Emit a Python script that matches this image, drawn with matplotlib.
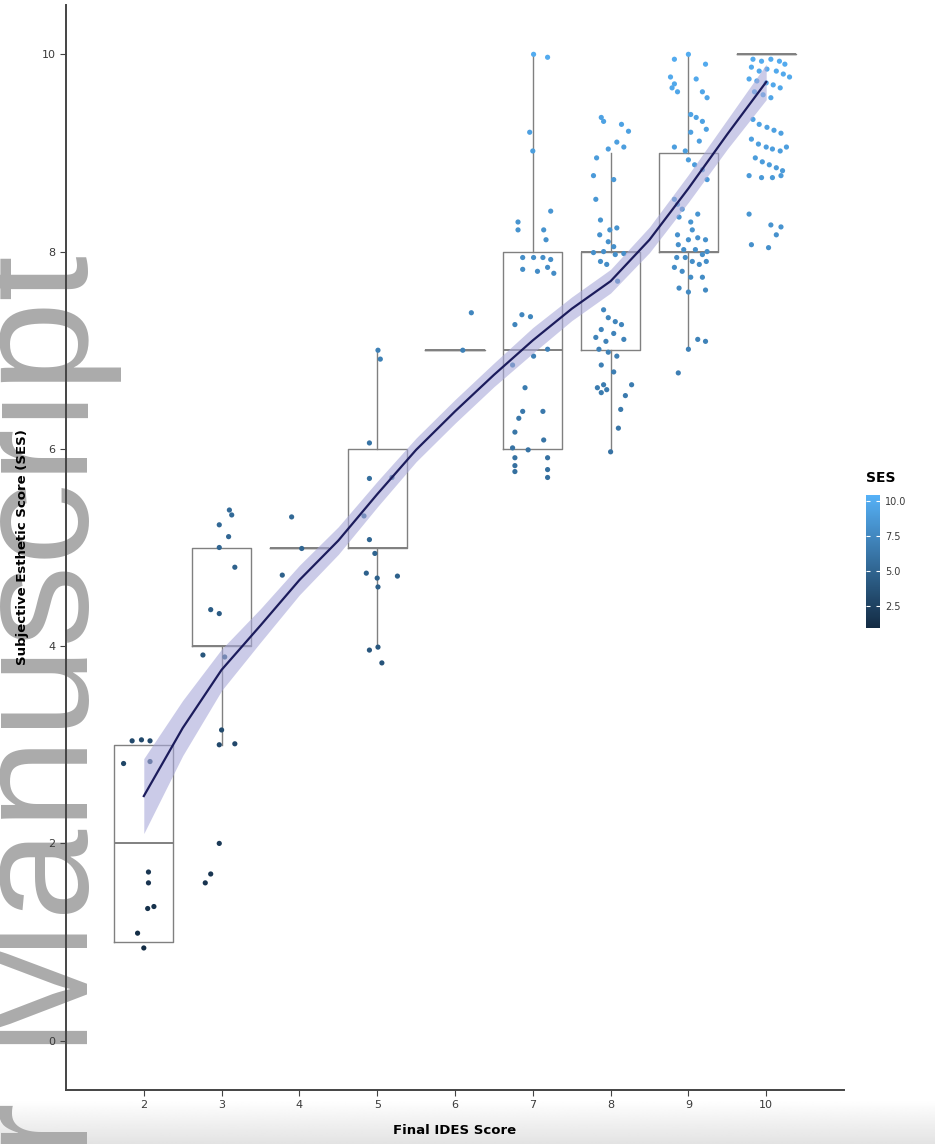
import numpy as np
import matplotlib
matplotlib.use("Agg")
import matplotlib.pyplot as plt
from matplotlib.colors import LinearSegmentedColormap, Normalize

# Final IDES score categories
categories = [2, 3, 4, 5, 6, 7, 8, 9, 10]

# boxplot summary per category (ggplot style: whiskers, quartiles, median)
box_low = [1, 3, 5, 4, 7, 6, 6, 7, 10]
box_q1 = [1, 4, 5, 5, 7, 6, 7, 8, 10]
box_med = [2, 4, 5, 5, 7, 7, 8, 8, 10]
box_q3 = [3, 5, 5, 6, 7, 8, 8, 9, 10]
box_high = [3, 5, 5, 7, 7, 10, 9, 10, 10]

# jittered points: horizontal jitter and SES value, one pair of lists per category
jit_2 = [-0.15, -0.03, 0.08, -0.26, 0.08, 0.06, 0.06, 0.05, 0.13, -0.08, 0.0]
ses_2 = [3.04, 3.05, 3.04, 2.81, 2.83, 1.71, 1.60, 1.34, 1.36, 1.09, 0.94]

jit_3 = [0.10, 0.13, 0.09, -0.03, -0.03, 0.17, -0.14, -0.03, -0.24, 0.04,
         0.0, -0.03, 0.17, -0.03, -0.14, -0.21]
ses_3 = [5.38, 5.33, 5.11, 5.23, 5.00, 4.80, 4.37, 4.33, 3.91, 3.89,
         3.15, 3.00, 3.01, 2.00, 1.69, 1.60]

jit_4 = [-0.10, -0.22, 0.03]
ses_4 = [5.31, 4.72, 4.99]

jit_5 = [0.01, 0.04, -0.10, -0.10, 0.19, -0.17, -0.10, -0.03, -0.14, 0.26,
         0.0, 0.01, -0.10, 0.01, 0.06]
ses_5 = [7.00, 6.91, 6.06, 5.70, 5.71, 5.32, 5.08, 4.94, 4.74, 4.71,
         4.69, 4.60, 3.96, 3.99, 3.83]

jit_6 = [0.21, 0.10]
ses_6 = [7.38, 7.00]

jit_7 = [0.01, 0.19, -0.04, 0.0, 0.23, -0.19, -0.19, 0.14, 0.17, -0.13,
         0.01, 0.13, 0.23, -0.13, 0.06, 0.19, 0.27, -0.14, -0.03, -0.23,
         0.19, 0.01, -0.26, -0.10, -0.13, -0.18, 0.13, -0.23, -0.26, 0.14,
         -0.06, -0.23, -0.23, -0.23, 0.19, 0.19, 0.19]
ses_7 = [10.0, 9.97, 9.21, 9.02, 8.41, 8.30, 8.22, 8.22, 8.12, 7.94,
         7.94, 7.94, 7.92, 7.82, 7.80, 7.84, 7.78, 7.36, 7.34, 7.26,
         7.01, 6.94, 6.85, 6.62, 6.38, 6.31, 6.38, 6.17, 6.01, 6.09,
         5.99, 5.91, 5.83, 5.77, 5.91, 5.79, 5.71]

jit_8 = [-0.12, -0.09, 0.14, 0.23, 0.08, -0.03, 0.17, -0.18, -0.22, 0.04,
         -0.19, -0.13, -0.01, 0.08, -0.14, -0.03, 0.04, -0.09, -0.22, 0.06,
         0.17, -0.13, -0.05, 0.09, -0.09, -0.03, 0.06, 0.14, -0.12, 0.04,
         -0.19, -0.06, 0.17, -0.15, -0.03, 0.08, -0.12, 0.04, -0.09, -0.17,
         -0.12, -0.05, 0.19, 0.27, 0.13, 0.10, 0.0]
ses_8 = [9.36, 9.32, 9.29, 9.22, 9.11, 9.04, 9.06, 8.95, 8.77, 8.73,
         8.53, 8.32, 8.22, 8.24, 8.17, 8.10, 8.05, 8.00, 7.99, 7.97,
         7.98, 7.90, 7.87, 7.70, 7.41, 7.33, 7.29, 7.26, 7.21, 7.17,
         7.13, 7.09, 7.11, 7.01, 6.98, 6.94, 6.85, 6.78, 6.65, 6.62,
         6.57, 6.60, 6.54, 6.65, 6.40, 6.21, 5.97]

jit_9 = [0.0, -0.18, 0.22, -0.23, -0.18, -0.14, -0.21, 0.10, 0.18, 0.24,
         0.03, 0.10, 0.18, 0.23, 0.03, 0.14, -0.18, -0.04, 0.0, 0.08,
         0.18, 0.24, -0.18, -0.14, -0.08, 0.12, -0.12, 0.03, 0.05, -0.14,
         0.0, 0.12, 0.22, -0.13, -0.06, 0.09, 0.18, 0.24, -0.15, -0.04,
         0.05, 0.14, 0.23, -0.18, -0.08, 0.03, 0.18, -0.12, 0.0, 0.22,
         0.12, 0.22, 0.0, -0.13]
ses_9 = [10.0, 9.95, 9.90, 9.77, 9.70, 9.62, 9.66, 9.75, 9.62, 9.56,
         9.39, 9.36, 9.32, 9.24, 9.21, 9.12, 9.06, 9.02, 8.93, 8.88,
         8.83, 8.73, 8.53, 8.48, 8.43, 8.38, 8.35, 8.30, 8.22, 8.17,
         8.12, 8.14, 8.12, 8.07, 8.02, 8.02, 7.97, 8.00, 7.94, 7.94,
         7.90, 7.87, 7.90, 7.84, 7.80, 7.74, 7.74, 7.63, 7.59, 7.61,
         7.11, 7.09, 7.01, 6.77]

jit_10 = [-0.17, -0.06, 0.06, 0.17, 0.24, -0.19, -0.09, 0.01, 0.13, 0.22,
          0.30, -0.22, -0.12, 0.0, 0.09, 0.18, -0.15, -0.04, 0.06, -0.17,
          -0.09, 0.01, 0.10, 0.19, -0.19, -0.10, 0.0, 0.08, 0.18, 0.26,
          -0.14, -0.05, 0.04, 0.13, 0.21, -0.22, -0.06, 0.08, 0.19, -0.22,
          0.06, 0.19, 0.13, -0.19, 0.03]
ses_10 = [9.95, 9.93, 9.95, 9.93, 9.90, 9.87, 9.83, 9.85, 9.83, 9.80,
          9.77, 9.75, 9.73, 9.71, 9.69, 9.66, 9.62, 9.59, 9.56, 9.34,
          9.29, 9.26, 9.23, 9.20, 9.14, 9.09, 9.06, 9.04, 9.02, 9.06,
          8.95, 8.91, 8.88, 8.85, 8.82, 8.77, 8.75, 8.75, 8.77, 8.38,
          8.27, 8.25, 8.17, 8.07, 8.04]

jitters = [jit_2, jit_3, jit_4, jit_5, jit_6, jit_7, jit_8, jit_9, jit_10]
ses_values = [ses_2, ses_3, ses_4, ses_5, ses_6, ses_7, ses_8, ses_9, ses_10]

# loess fit (fit and half-width of the confidence band)
smooth_x = [2, 2.5, 3, 3.5, 4, 4.5, 5, 5.5, 6, 6.5, 7, 7.5, 8, 8.5, 9, 9.5, 10]
smooth_y = [2.48, 3.17, 3.76, 4.21, 4.67, 5.07, 5.54, 5.99, 6.38, 6.75,
            7.10, 7.42, 7.70, 8.12, 8.64, 9.19, 9.72]
smooth_se = [0.38, 0.28, 0.21, 0.17, 0.15, 0.14, 0.13, 0.12, 0.12, 0.12,
             0.13, 0.12, 0.12, 0.13, 0.14, 0.15, 0.18]

W, H = 935, 1144
fig = plt.figure(figsize=(W / 100, H / 100), dpi=100)

# faint page shadow along the bottom edge
gax = fig.add_axes([0, 0, 1, 44 / H])
gax.set_zorder(-2)
grad = np.linspace(0.89, 1.0, 50).reshape(-1, 1)
gax.imshow(np.repeat(grad, 2, axis=1), cmap="gray", vmin=0, vmax=1,
           aspect="auto", origin="lower")
gax.axis("off")

# watermark
fig.text(88 / W, 1 - 255 / H, "Author Manuscript", rotation=90,
         rotation_mode="anchor", ha="right", va="baseline", fontsize=118,
         color="#ababab", family="Liberation Sans", zorder=-1)

ax = fig.add_axes([66 / W, 1 - 1090 / H, (844 - 66) / W, (1090 - 5) / H])
ax.patch.set_alpha(0)

# boxplots
stats = []
for i, c in enumerate(categories):
    stats.append(dict(whislo=box_low[i], q1=box_q1[i], med=box_med[i],
                      q3=box_q3[i], whishi=box_high[i], fliers=[]))
line_kw = dict(color="#808080", linewidth=1.0)
ax.bxp(stats, positions=categories, widths=0.76, showfliers=False,
       boxprops=line_kw, whiskerprops=line_kw, capprops=dict(linewidth=0),
       medianprops=dict(color="#808080", linewidth=1.4), manage_ticks=False,
       zorder=1)

# jittered points coloured by SES
cmap = LinearSegmentedColormap.from_list("ses", ["#132B43", "#56B1F7"])
norm = Normalize(vmin=0.9, vmax=10.4)
px, py = [], []
for c, jx, sy in zip(categories, jitters, ses_values):
    px += [c + d for d in jx]
    py += sy
ax.scatter(px, py, c=py, cmap=cmap, norm=norm, s=14, linewidths=0, zorder=3)

# smooth fit with confidence band
sy = np.array(smooth_y)
se = np.array(smooth_se)
ax.fill_between(smooth_x, sy - se, sy + se, color="#a9a9d9", alpha=0.6,
                linewidth=0, zorder=4)
ax.plot(smooth_x, sy, color="#1c1c5c", linewidth=1.6, zorder=5)

ax.set_xlim(1.0, 11.0)
ax.set_ylim(-0.5, 10.5)
ax.set_xticks(categories)
ax.set_yticks([0, 2, 4, 6, 8, 10])
for s in ["top", "right"]:
    ax.spines[s].set_visible(False)
for s in ["left", "bottom"]:
    ax.spines[s].set_color("#444444")
    ax.spines[s].set_linewidth(1.4)
ax.tick_params(colors="#444444", length=4, width=0.8, labelsize=8,
               labelcolor="#3a3a3a")
ax.set_xlabel("Final IDES Score", fontsize=9.5, fontweight="bold", labelpad=10)
ax.set_ylabel("Subjective Esthetic Score (SES)", fontsize=9.5,
              fontweight="bold", labelpad=9)

# colour bar legend
cax = fig.add_axes([866 / W, 1 - 628 / H, 14 / W, 133 / H])
sm = plt.cm.ScalarMappable(cmap=cmap, norm=norm)
cb = fig.colorbar(sm, cax=cax, ticks=[2.5, 5.0, 7.5, 10.0])
cb.ax.set_yticklabels(["2.5", "5.0", "7.5", "10.0"])
cb.outline.set_visible(False)
cb.ax.tick_params(colors="white", direction="in", length=3, width=0.8,
                  labelsize=7, labelcolor="#3a3a3a", left=True, right=True)
fig.text(866 / W, 1 - 478 / H, "SES", fontsize=10, fontweight="bold",
         ha="left", va="center")

fig.savefig("out.png", dpi=100)
